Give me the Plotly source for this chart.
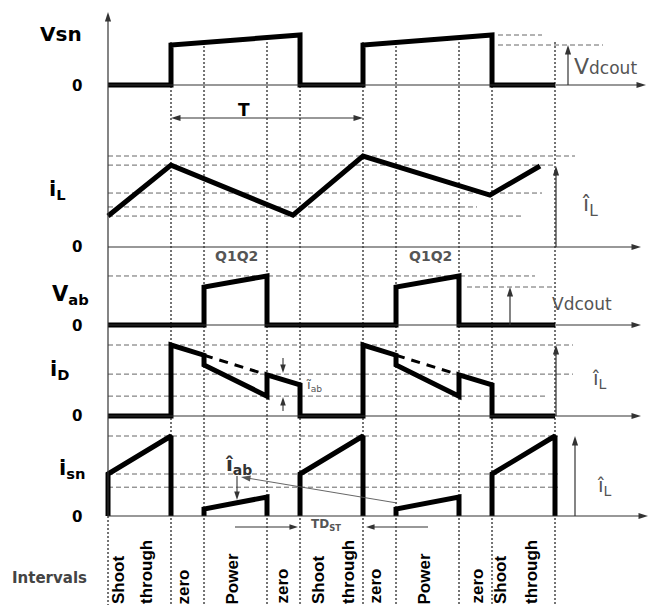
import math
import plotly.graph_objects as go

W, H = 649, 605

# ---------------------------------------------------------------
# Waveform data, time in units of the switching period T
# (t = 0 at the end of the first shoot-through interval)
# ---------------------------------------------------------------
interval_edges = [-0.328, 0.0, 0.172, 0.5, 0.672, 1.0, 1.172, 1.5, 1.672, 2.0]
interval_words = ["Shoot", "through", "zero", "Power", "zero",
                  "Shoot", "through", "zero", "Power", "zero",
                  "Shoot", "through"]

# switch-node voltage (in units of Vdcout)
vsn_t = [-0.328, 0.0, 0.0, 0.672, 0.672, 1.0, 1.0, 1.672, 1.672, 2.0]
vsn_v = [0, 0, 1.0, 1.25, 0, 0, 1.0, 1.25, 0, 0]

# inductor current (in units of its peak)
il_t = [-0.328, 0.0, 0.635, 1.0, 1.661, 1.922]
il_v = [0.34, 0.90, 0.35, 1.0, 0.57, 0.89]
il_levels = [1.0, 0.90, 0.593, 0.44, 0.34]

# bridge output voltage (in units of Vdcout)
vab_t = [-0.328, 0.172, 0.172, 0.5, 0.5, 1.172, 1.172, 1.5, 1.5, 2.0]
vab_v = [0, 0, 1.0, 1.29, 0, 0, 1.0, 1.29, 0, 0]

# diode current (in units of the inductor peak)
id_t = [-0.328, 0.0, 0.0, 0.172, 0.172, 0.5, 0.5, 0.672, 0.672,
        1.0, 1.0, 1.172, 1.172, 1.5, 1.5, 1.672, 1.672, 2.0]
id_v = [0, 0, 1.0, 0.856, 0.72, 0.28, 0.58, 0.437, 0,
        0, 1.0, 0.856, 0.72, 0.28, 0.58, 0.437, 0, 0]
id_env_t = [0.172, 0.5, None, 1.172, 1.5]
id_env_v = [0.856, 0.58, None, 0.856, 0.58]
id_levels = [1.0, 0.59, 0.28]

# switch-node current (in units of the inductor peak)
isn_t = [-0.328, -0.328, 0.0, 0.0, None,
         0.172, 0.172, 0.5, 0.5, None,
         0.672, 0.672, 1.0, 1.0, None,
         1.172, 1.172, 1.5, 1.5, None,
         1.672, 1.672, 2.0, 2.0]
isn_v = [0, 0.525, 1.0, 0, None,
         0, 0.0875, 0.2375, 0, None,
         0, 0.525, 1.0, 0, None,
         0, 0.0875, 0.2375, 0, None,
         0, 0.525, 1.0, 0]
isn_levels = [1.0, 0.525, 0.36]

# ---------------------------------------------------------------
# Layout geometry: each trace panel gets its own overlaid y axis
# ---------------------------------------------------------------
T_PX, T0_PX = 192.0, 171.0          # period length and t=0 position
AX_X = 108                           # left vertical axis
panels = {                           # zero line, pixels per unit
    "y":  (85, 40),
    "y2": (247, 91),
    "y3": (325, 38),
    "y4": (416, 71),
    "y5": (516, 80),
}


def yr(key):
    z, u = panels[key]
    return [(z - H) / u, z / u]


def px(x):
    return x / W


def py(y):
    return 1 - y / H


BLACK = "#000000"
GREY = "#555555"
GUIDE = "#666666"
DOT = "#737373"
FONT_H = "DejaVu Sans"
FONT_V = "Liberation Sans"

fig = go.Figure()

WAVE = dict(color=BLACK, width=5)
fig.add_trace(go.Scatter(x=vsn_t, y=vsn_v, yaxis="y", mode="lines", line=WAVE))
fig.add_trace(go.Scatter(x=il_t, y=il_v, yaxis="y2", mode="lines", line=WAVE))
fig.add_trace(go.Scatter(x=vab_t, y=vab_v, yaxis="y3", mode="lines", line=WAVE))
fig.add_trace(go.Scatter(x=id_t, y=id_v, yaxis="y4", mode="lines", line=WAVE))
fig.add_trace(go.Scatter(x=id_env_t, y=id_env_v, yaxis="y4", mode="lines",
                         line=dict(color=BLACK, width=3, dash="9px,7px")))
fig.add_trace(go.Scatter(x=isn_t, y=isn_v, yaxis="y5", mode="lines", line=WAVE))

shapes = []

# dotted interval boundaries
for t in interval_edges:
    y_top = 516 if t == interval_edges[0] else 42
    shapes.append(dict(type="line", xref="x", yref="paper", x0=t, x1=t,
                       y0=py(y_top), y1=0,
                       line=dict(color=DOT, width=2, dash="2px,2px"), layer="below"))


def guide(yref, level, x0_px, x1_px):
    shapes.append(dict(type="line", xref="paper", yref=yref,
                       x0=px(x0_px), x1=px(x1_px), y0=level, y1=level,
                       line=dict(color=GUIDE, width=1, dash="5px,3px"), layer="below"))


# dashed reference levels
guide("y", 1.25, 498, 542)
guide("y", 1.0, 498, 603)
for lv, xe in zip(il_levels, [575, 553, 542, 477, 523]):
    guide("y2", lv, AX_X, xe)
guide("y3", 1.29, AX_X, 535)
guide("y3", 1.0, 467, 556)
for lv, xe in zip(id_levels, [573, 573, 545]):
    guide("y4", lv, AX_X, xe)
for lv in isn_levels:
    guide("y5", lv, AX_X, 558)

# ---------------------------------------------------------------
# Arrows: shafts as lines, heads as oriented arrow markers,
# drawn on a pixel-space axis pair
# ---------------------------------------------------------------
arrow_groups = {}


def arrow(x0, y0, x1, y1, width=1.2, size=10, color="#333333", both=False):
    g = arrow_groups.setdefault((width, size, color),
                                dict(lx=[], ly=[], hx=[], hy=[], ang=[]))
    dx, dy = x1 - x0, y1 - y0
    n = math.hypot(dx, dy)
    ux, uy = dx / n, dy / n
    back = 0.5 * size
    sx0, sy0 = (x0 + ux * back, y0 + uy * back) if both else (x0, y0)
    g["lx"] += [sx0, x1 - ux * back, None]
    g["ly"] += [sy0, y1 - uy * back, None]
    ang = math.degrees(math.atan2(dx, -dy))
    g["hx"].append(x1)
    g["hy"].append(y1)
    g["ang"].append(ang)
    if both:
        g["hx"].append(x0)
        g["hy"].append(y0)
        g["ang"].append(ang + 180)


# axes
arrow(AX_X, 516, AX_X, 12)
for key, xe in zip(panels, [646, 641, 641, 641, 648]):
    z = panels[key][0]
    arrow(AX_X, z, xe, z)

# period marker
arrow(171, 118, 363, 118, both=True)

# Vdcout markers
arrow(568, 85, 568, 45)
arrow(510, 325, 510, 287)

# inductor peak markers
arrow(556, 247, 556, 166)
arrow(556, 416, 556, 345)
arrow(575, 516, 575, 436)

# diode ripple markers
arrow(283, 358, 283, 373, width=1.1, size=9)
arrow(283, 411, 283, 397, width=1.1, size=9)

# bridge current markers
arrow(237, 476, 237, 500, width=1.1, size=9)
arrow(397, 503, 241, 477, width=0.9, size=10, color="#555555")

# shoot-through delay
arrow(235, 527, 298, 527, width=1.1, size=9)
arrow(428, 527, 366, 527, width=1.1, size=9)

for (w, s, c), g in arrow_groups.items():
    fig.add_trace(go.Scatter(x=g["lx"], y=g["ly"], xaxis="x2", yaxis="y6",
                             mode="lines", line=dict(color=c, width=w)))
    fig.add_trace(go.Scatter(x=g["hx"], y=g["hy"], xaxis="x2", yaxis="y6",
                             mode="markers",
                             marker=dict(symbol="arrow", size=s, color=c,
                                         angle=g["ang"], line=dict(width=0))))

# ---------------------------------------------------------------
# Text
# ---------------------------------------------------------------
annotations = []


def label(x, y, s, size, color=BLACK, family=FONT_H, xanchor="center",
          yanchor="middle", angle=0):
    annotations.append(dict(xref="paper", yref="paper", x=px(x), y=py(y),
                            text=s, showarrow=False, xanchor=xanchor,
                            yanchor=yanchor, textangle=angle,
                            font=dict(family=family, size=size, color=color)))


label(244, 110, "<b>T</b>", 17)
label(572, 66, "V<span style='font-size:17px'>dcout</span>", 22, GREY,
      xanchor="left")
label(550, 304, "Vdcout", 17, GREY, xanchor="left")
label(590, 205, "î<sub>L</sub>", 22, GREY)
label(599, 379, "î<sub>L</sub>", 20, GREY)
label(604, 486, "î<sub>L</sub>", 20, GREY)
label(236, 256, "<b>Q1Q2</b>", 14, GREY)
label(430, 256, "<b>Q1Q2</b>", 14, GREY)
label(314, 385, "ĩ<sub>ab</sub>", 13, GREY)
label(238, 465, "<b>î<sub>ab</sub></b>", 20, "#333333")
label(326, 525, "<b>TD<sub>ST</sub></b>", 12, GREY)

# left-hand trace names and zero marks
label(61, 34, "<b>Vsn</b>", 20)
label(77, 86, "<b>0</b>", 15)
label(57, 190, "<b>i<sub>L</sub></b>", 21)
label(77, 247, "<b>0</b>", 15)
label(70, 295, "<b>V<sub>ab</sub></b>", 21)
label(77, 326, "<b>0</b>", 15)
label(59, 370, "<b>i<sub>D</sub></b>", 21)
label(77, 416, "<b>0</b>", 15)
label(72, 469, "<b>i<sub>sn</sub></b>", 21)
label(77, 517, "<b>0</b>", 15)
label(49, 578, "<b>Intervals</b>", 15, "#444444")

# interval names, written upward along the bottom edge
word_x = [118, 146, 183, 232, 282, 318, 348, 375, 424, 477, 500, 531]
for wx, word in zip(word_x, interval_words):
    label(wx, 606, "<b>" + word + "</b>", 17, BLACK, family=FONT_V,
          yanchor="bottom", angle=-90)

layout_axes = dict(
    xaxis=dict(range=[(0 - T0_PX) / T_PX, (W - T0_PX) / T_PX], domain=[0, 1],
               visible=False, fixedrange=True),
    xaxis2=dict(range=[0, W], domain=[0, 1], overlaying="x", anchor="y6",
                visible=False),
    yaxis=dict(range=yr("y"), domain=[0, 1], visible=False),
    yaxis6=dict(range=[H, 0], overlaying="y", anchor="x2", visible=False),
)
for key in ["y2", "y3", "y4", "y5"]:
    layout_axes["yaxis" + key[1:]] = dict(range=yr(key), overlaying="y",
                                          anchor="x", visible=False)

fig.update_layout(
    width=W, height=H, margin=dict(l=0, r=0, t=0, b=0),
    paper_bgcolor="white", plot_bgcolor="white", showlegend=False,
    shapes=shapes, annotations=annotations, **layout_axes,
)

fig.write_html("out.html")
